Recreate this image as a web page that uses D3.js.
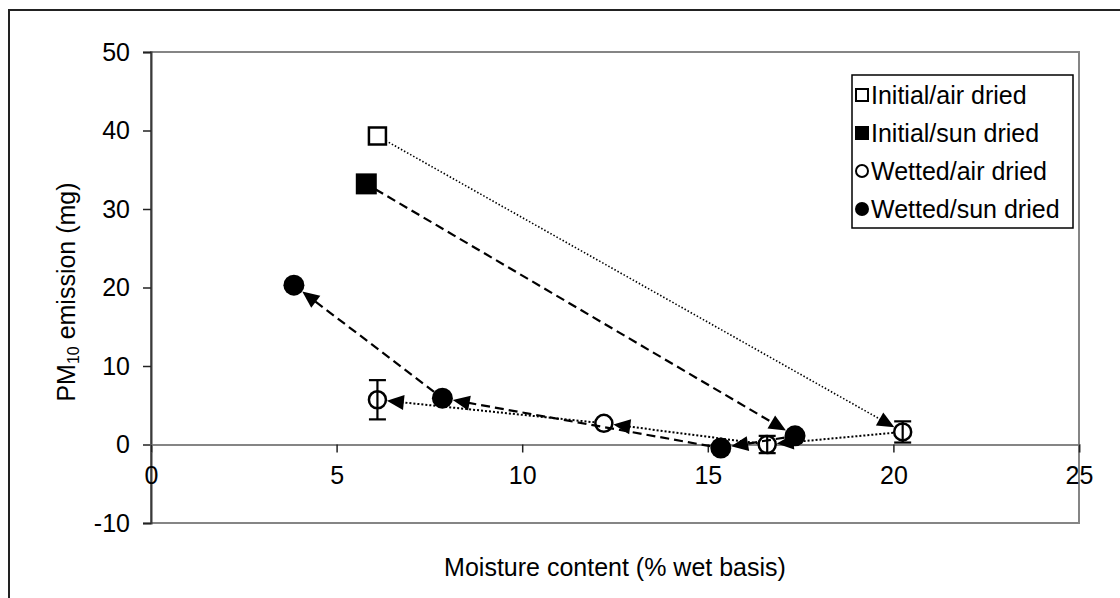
<!DOCTYPE html>
<html>
<head>
<meta charset="utf-8">
<script src="https://cdn.jsdelivr.net/npm/d3@7"></script>
<style>
  body { margin: 0; background: #fff; }
  text { font-family: "Liberation Sans", Arial, sans-serif; fill: #000; }
</style>
</head>
<body>
<div id="chart"></div>
<script>
// values
var seriesNames = ["Initial/air dried", "Initial/sun dried", "Wetted/air dried", "Wetted/sun dried"];

var initialAirX = [6.1];
var initialAirY = [39.3];
var initialSunX = [5.8];
var initialSunY = [33.2];

var wettedAirX = [20.25, 16.6, 12.2, 6.1];
var wettedAirY = [1.6, 0.0, 2.7, 5.7];
var wettedAirErr = [1.35, 1.1, 0, 2.5];

var wettedSunX = [17.35, 15.35, 7.85, 3.85];
var wettedSunY = [1.1, -0.45, 5.9, 20.3];

var xTicks = [0, 5, 10, 15, 20, 25];
var yTicks = [-10, 0, 10, 20, 30, 40, 50];

var W = 1120, H = 598;
var plot = { left: 151, right: 1079, top: 52, bottom: 523 };
var fontSize = 25;

var x = d3.scaleLinear().domain([0, 25]).range([plot.left, plot.right]);
var y = d3.scaleLinear().domain([-10, 50]).range([plot.bottom, plot.top]);

// plain hyphen for negatives, like the original
var fmt = function (d) { return String(d); };

var svg = d3.select("#chart").append("svg")
  .attr("width", W)
  .attr("height", H);

// outer chart border (runs off the bottom/right like the original)
svg.append("rect")
  .attr("x", 9).attr("y", 10)
  .attr("width", W + 20).attr("height", H + 20)
  .attr("fill", "#fff")
  .attr("stroke", "#222")
  .attr("stroke-width", 2);

// plot area frame
svg.append("rect")
  .attr("x", plot.left).attr("y", plot.top)
  .attr("width", plot.right - plot.left)
  .attr("height", plot.bottom - plot.top)
  .attr("fill", "none")
  .attr("stroke", "#858585")
  .attr("stroke-width", 2);

// y axis
var yAxis = svg.append("g")
  .attr("transform", "translate(" + plot.left + ",0)")
  .call(d3.axisLeft(y).tickValues(yTicks).tickSize(8).tickPadding(13).tickFormat(fmt));
yAxis.select(".domain").attr("stroke", "#3a3a3a").attr("stroke-width", 2);
yAxis.selectAll(".tick line").attr("stroke", "#222").attr("stroke-width", 1.5);
yAxis.selectAll("text")
  .style("font-size", fontSize + "px")
  .style("font-family", "Liberation Sans, Arial, sans-serif")
  .attr("fill", "#000");

// x axis sits on y = 0
var xAxis = svg.append("g")
  .attr("transform", "translate(0," + y(0) + ")")
  .call(d3.axisBottom(x).tickValues(xTicks).tickSize(8).tickPadding(14).tickFormat(fmt));
xAxis.select(".domain").attr("stroke", "#858585").attr("stroke-width", 2);
xAxis.selectAll(".tick line").attr("stroke", "#222").attr("stroke-width", 1.5);
xAxis.selectAll("text")
  .style("font-size", fontSize + "px")
  .style("font-family", "Liberation Sans, Arial, sans-serif")
  .attr("fill", "#000");

// axis titles
svg.append("text")
  .attr("x", 615)
  .attr("y", 576)
  .attr("text-anchor", "middle")
  .style("font-size", fontSize + "px")
  .text("Moisture content (% wet basis)");

var yTitle = svg.append("text")
  .attr("transform", "translate(75,292) rotate(-90)")
  .attr("text-anchor", "middle")
  .style("font-size", fontSize + "px");
yTitle.append("tspan").text("PM");
yTitle.append("tspan").attr("baseline-shift", "-25%").style("font-size", "16px").text("10");
yTitle.append("tspan").text(" emission (mg)");

// marker geometry
var markerR = { sq: 9.5, sqFill: 10.5, circ: 9.5, circFill: 10.5 };

function pts(xs, ys) {
  return xs.map(function (v, i) { return { x: v, y: ys[i] }; });
}

var initialAir = pts(initialAirX, initialAirY);
var initialSun = pts(initialSunX, initialSunY);
var wettedAir = pts(wettedAirX, wettedAirY);
var wettedSun = pts(wettedSunX, wettedSunY);

// arrows: [from, to, from radius, to radius, style]
var dotted = { dash: "2,2", width: 2 };
var dottedFine = { dash: "1.5,2", width: 1.6 };
var dashed = { dash: "9,5", width: 2.2 };

var arrows = [];
arrows.push([initialAir[0], wettedAir[0], markerR.sq, markerR.circ, dottedFine]);
arrows.push([initialSun[0], wettedSun[0], markerR.sqFill, markerR.circFill, dashed]);
for (var i = 0; i < wettedAir.length - 1; i++) {
  arrows.push([wettedAir[i], wettedAir[i + 1], markerR.circ, markerR.circ, dotted]);
}
for (var j = 0; j < wettedSun.length - 1; j++) {
  arrows.push([wettedSun[j], wettedSun[j + 1], markerR.circFill, markerR.circFill, dashed]);
}

var markersG = svg.append("g");
var linesG = svg.append("g");
var errG = svg.append("g");

// markers first, lines over them (dashed line crosses the open circle at 12 %)
markersG.selectAll("rect.ia").data(initialAir).enter().append("rect")
  .attr("x", function (d) { return x(d.x) - 8.5; })
  .attr("y", function (d) { return y(d.y) - 8.5; })
  .attr("width", 17).attr("height", 17)
  .attr("fill", "#fff").attr("stroke", "#000").attr("stroke-width", 2.5);

markersG.selectAll("rect.is").data(initialSun).enter().append("rect")
  .attr("x", function (d) { return x(d.x) - 10.5; })
  .attr("y", function (d) { return y(d.y) - 10.5; })
  .attr("width", 21).attr("height", 21)
  .attr("fill", "#000");

markersG.selectAll("circle.wa").data(wettedAir).enter().append("circle")
  .attr("cx", function (d) { return x(d.x); })
  .attr("cy", function (d) { return y(d.y); })
  .attr("r", 8.5)
  .attr("fill", "#fff").attr("stroke", "#000").attr("stroke-width", 2.5);

markersG.selectAll("circle.ws").data(wettedSun).enter().append("circle")
  .attr("cx", function (d) { return x(d.x); })
  .attr("cy", function (d) { return y(d.y); })
  .attr("r", 10.5)
  .attr("fill", "#000");

var headLen = 17, headHalf = 7.5;

arrows.forEach(function (a) {
  var x0 = x(a[0].x), y0 = y(a[0].y), x1 = x(a[1].x), y1 = y(a[1].y);
  var dx = x1 - x0, dy = y1 - y0, len = Math.sqrt(dx * dx + dy * dy);
  var ux = dx / len, uy = dy / len;
  var sx = x0 + ux * a[2], sy = y0 + uy * a[2];
  var tx = x1 - ux * a[3], ty = y1 - uy * a[3];
  var bx = tx - ux * headLen, by = ty - uy * headLen;

  linesG.append("line")
    .attr("x1", sx).attr("y1", sy)
    .attr("x2", bx + ux * 2).attr("y2", by + uy * 2)
    .attr("stroke", "#000")
    .attr("stroke-width", a[4].width)
    .attr("stroke-dasharray", a[4].dash);

  linesG.append("path")
    .attr("d", "M" + tx + "," + ty +
      "L" + (bx - uy * headHalf) + "," + (by + ux * headHalf) +
      "L" + (bx + uy * headHalf) + "," + (by - ux * headHalf) + "Z")
    .attr("fill", "#000");
});

// error bars on wetted/air dried
var capHalf = 8.5;
wettedAir.forEach(function (d, k) {
  var e = wettedAirErr[k];
  if (!e) return;
  var cx = x(d.x);
  errG.append("line")
    .attr("x1", cx).attr("x2", cx)
    .attr("y1", y(d.y + e)).attr("y2", y(d.y - e))
    .attr("stroke", "#000").attr("stroke-width", 2.2);
  [d.y + e, d.y - e].forEach(function (v) {
    errG.append("line")
      .attr("x1", cx - capHalf).attr("x2", cx + capHalf)
      .attr("y1", y(v)).attr("y2", y(v))
      .attr("stroke", "#000").attr("stroke-width", 2.2);
  });
});

// legend
var legend = { left: 852, top: 75, right: 1073, bottom: 228, rowH: 38, firstRow: 95 };
svg.append("rect")
  .attr("x", legend.left).attr("y", legend.top)
  .attr("width", legend.right - legend.left)
  .attr("height", legend.bottom - legend.top)
  .attr("fill", "#fff")
  .attr("stroke", "#000")
  .attr("stroke-width", 1.5);

var legendRow = svg.append("g").selectAll("g")
  .data(seriesNames)
  .enter().append("g")
  .attr("transform", function (d, i) {
    return "translate(" + (legend.left + 10) + "," + (legend.firstRow + i * legend.rowH) + ")";
  });

legendRow.each(function (d, i) {
  var g = d3.select(this);
  if (i === 0) {
    g.append("rect").attr("x", -6).attr("y", -6).attr("width", 12).attr("height", 12)
      .attr("fill", "#fff").attr("stroke", "#000").attr("stroke-width", 2);
  } else if (i === 1) {
    g.append("rect").attr("x", -7).attr("y", -7).attr("width", 14).attr("height", 14)
      .attr("fill", "#000");
  } else if (i === 2) {
    g.append("circle").attr("r", 6).attr("fill", "#fff")
      .attr("stroke", "#000").attr("stroke-width", 2);
  } else {
    g.append("circle").attr("r", 7).attr("fill", "#000");
  }
  g.append("text")
    .attr("x", 9)
    .attr("dy", "0.35em")
    .style("font-size", fontSize + "px")
    .text(d);
});
</script>
</body>
</html>
